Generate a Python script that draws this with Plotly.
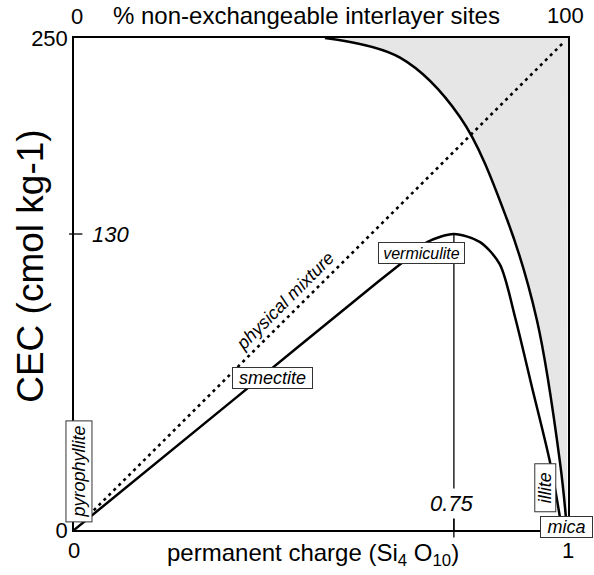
import plotly.graph_objects as go

# ---- data (axis units: x = permanent charge 0..1, y = CEC 0..250) ----
# vermiculite / smectite charge-CEC curve
x_ver = [0.0, 0.322, 0.600, 0.666, 0.715, 0.769, 0.822, 0.862, 0.893, 0.927, 0.964, 0.988]
y_ver = [0.0, 66.0, 123.0, 136.2, 146.3, 150.4, 146.3, 135.0, 108.0, 72.7, 34.0, 0.0]
# boundary of non-exchangeable interlayer sites
x_out = [0.508, 0.660, 0.781, 0.877, 0.937, 0.984, 0.998]
y_out = [250.0, 240.0, 210.0, 157.5, 106.7, 34.0, 0.0]
# physical mixture line
x_mix = [0.04, 0.99]
y_mix = [10.0, 247.5]

x_range = [0, 1]
y_range = [0, 250]
x_ticks = [0, 1]
x_ticktext = ["0", "1"]
y_ticks = [0, 250]
y_ticktext = ["0", "250"]
top_ticktext = ["0", "100"]

peak_label_x = "0.75"
peak_label_y = "130"

minerals = ["pyrophyllite", "smectite", "vermiculite", "illite", "mica"]

FONT = "Liberation Sans, Arial, Helvetica, sans-serif"

fig = go.Figure()

# shaded region (non-exchangeable)
fig.add_trace(go.Scatter(x=[x_out[0], x_range[1]], y=[y_range[1], y_range[1]],
                         mode="lines", line=dict(width=0, color="rgba(0,0,0,0)"),
                         hoverinfo="skip", showlegend=False))
fig.add_trace(go.Scatter(x=x_out, y=y_out, mode="lines", fill="tonexty",
                         fillcolor="#e6e6e6",
                         line=dict(color="black", width=2.5, shape="spline", smoothing=1.0),
                         showlegend=False))

# physical mixture (dotted)
fig.add_trace(go.Scatter(x=x_mix, y=y_mix, mode="lines",
                         line=dict(color="black", width=2.6, dash="3px,4px"),
                         showlegend=False))

# vermiculite curve
fig.add_trace(go.Scatter(x=x_ver, y=y_ver, mode="lines",
                         line=dict(color="black", width=2.5, shape="spline", smoothing=0.8),
                         showlegend=False))

# vertical line at peak
ip = y_ver.index(max(y_ver))
px, py = x_ver[ip], y_ver[ip]
fig.add_trace(go.Scatter(x=[px, px], y=[0, py], mode="lines",
                         line=dict(color="black", width=1.3), showlegend=False))

# tick marks crossing the axes
xp_paper = (px - x_range[0]) / (x_range[1] - x_range[0])
yp_paper = (py - y_range[0]) / (y_range[1] - y_range[0])
fig.add_shape(type="line", xref="paper", yref="paper", x0=xp_paper, x1=xp_paper,
              y0=-0.015, y1=0.03, line=dict(color="black", width=1.3))
fig.add_shape(type="line", xref="paper", yref="paper", x0=-0.01, x1=0.017,
              y0=yp_paper, y1=yp_paper, line=dict(color="black", width=1.3))

# peak labels
fig.add_annotation(x=0.765, y=13.7, text=peak_label_x, showarrow=False,
                   xanchor="center", yanchor="middle",
                   font=dict(family=FONT, size=22, color="black", style="italic"),
                   bgcolor="white", borderpad=2)
fig.add_annotation(x=0.033, y=py, xanchor="left", yanchor="middle", text=peak_label_y,
                   showarrow=False,
                   font=dict(family=FONT, size=22, color="black", style="italic"))

# mineral labels (boxed)
label_pos = {
    "pyrophyllite": (0.011, 30.0, -90, 98, 23, 18),
    "smectite": (0.402, 77.2, 0, 77, 18, 18),
    "vermiculite": (0.703, 140.8, 0, 83, 18, 16),
    "illite": (0.955, 21.6, -90, 45, 18, 18),
    "mica": (0.997, 1.5, 0, 49, 18, 18),
}
for m in minerals:
    x, y, ang, w, h, fs = label_pos[m]
    fig.add_annotation(x=x, y=y, text=m, showarrow=False, textangle=ang,
                       xanchor="center", yanchor="middle",
                       font=dict(family=FONT, size=fs, color="black", style="italic"),
                       bgcolor="white", bordercolor="#333",
                       borderwidth=1, borderpad=1, width=w, height=h)

fig.add_annotation(x=0.427, y=116.4, text="physical mixture", showarrow=False,
                   xanchor="center", yanchor="middle",
                   textangle=-45, font=dict(family=FONT, size=18, color="black", style="italic"))

# top axis labels
fig.add_annotation(xref="paper", yref="paper", x=0.006, y=1.043, text=top_ticktext[0],
                   xanchor="center", yanchor="middle",
                   showarrow=False, font=dict(family=FONT, size=22, color="black"))
fig.add_annotation(xref="paper", yref="paper", x=0.994, y=1.046, text=top_ticktext[1],
                   xanchor="center", yanchor="middle",
                   showarrow=False, font=dict(family=FONT, size=22, color="black"))
fig.add_annotation(xref="paper", yref="paper", x=0.47, y=1.045,
                   xanchor="center", yanchor="middle",
                   text="% non-exchangeable interlayer sites",
                   showarrow=False, font=dict(family=FONT, size=24, color="black"))

# axis titles
fig.add_annotation(xref="paper", yref="paper", x=0.484, y=-0.049,
                   xanchor="center", yanchor="middle",
                   text="permanent charge (Si<sub>4</sub> O<sub>10</sub>)",
                   showarrow=False, font=dict(family=FONT, size=24, color="black"))
fig.add_annotation(xref="paper", yref="paper", x=-0.087, y=0.535,
                   xanchor="center", yanchor="middle",
                   text="CEC (cmol kg-1)", textangle=-90,
                   showarrow=False, font=dict(family=FONT, size=37, color="black"))

fig.update_xaxes(range=x_range, tickvals=x_ticks, ticktext=x_ticktext, showgrid=False,
                 zeroline=False, showline=True, mirror=True, linecolor="black", linewidth=1.5,
                 ticks="", tickfont=dict(family=FONT, size=22, color="black"))
fig.update_yaxes(range=y_range, tickvals=y_ticks, ticktext=y_ticktext, showgrid=False,
                 zeroline=False, showline=True, mirror=True, linecolor="black", linewidth=1.5,
                 ticks="", tickfont=dict(family=FONT, size=22, color="black"))

fig.update_layout(width=594, height=575, margin=dict(l=74, r=26, t=38, b=45),
                  plot_bgcolor="white", paper_bgcolor="white", showlegend=False)

fig.write_html("out.html")
